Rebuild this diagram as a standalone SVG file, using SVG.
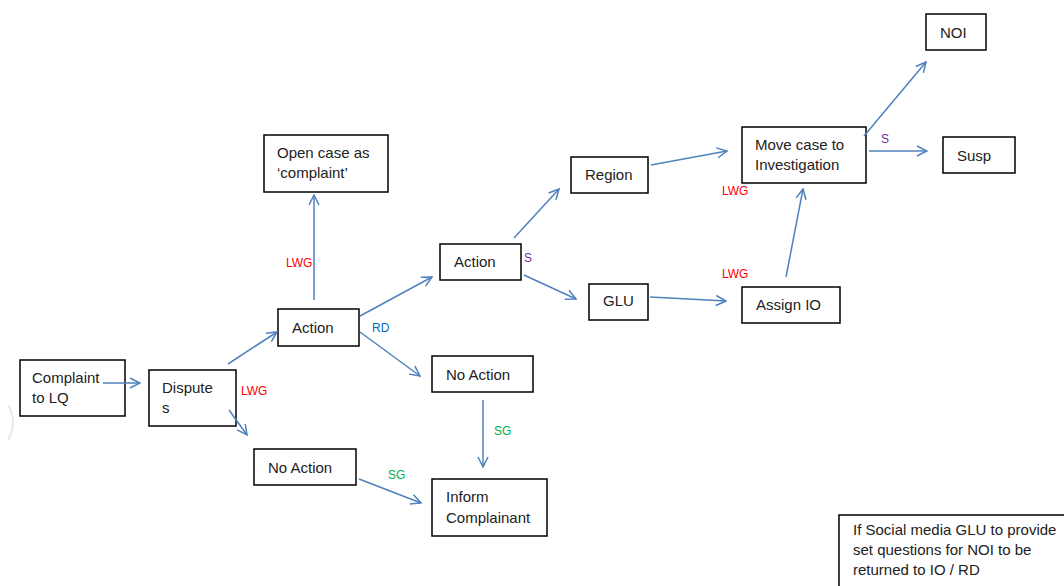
<svg xmlns="http://www.w3.org/2000/svg" width="1064" height="586" viewBox="0 0 1064 586">
<defs>
<marker id="ah" viewBox="0 0 12 12" refX="11" refY="6" markerWidth="12" markerHeight="12" markerUnits="userSpaceOnUse" orient="auto">
<path d="M1,1 L11,6 L1,11" fill="none" stroke="#4f81bd" stroke-width="1.5"/>
</marker>
</defs>
<style>
.box{fill:#fff;stroke:#000;stroke-width:1.5}
.t{font-family:"Liberation Sans",Arial,sans-serif;font-size:15px;fill:#222}
.l{font-family:"Liberation Sans",Arial,sans-serif;font-size:12px}
.c line{stroke:#4f81bd;stroke-width:1.5;marker-end:url(#ah)}
</style>
<rect width="1064" height="586" fill="#fff"/>
<path d="M8,405 Q18,422 8,440" fill="none" stroke="#e8e8e8" stroke-width="2"/>
<g id="complaint"><rect class="box" x="20" y="360" width="105" height="56"/><text class="t" x="32" y="383">Complaint</text><text class="t" x="32" y="403">to LQ</text></g>
<g id="disputes"><rect class="box" x="149" y="370" width="87" height="56"/><text class="t" x="162" y="393">Dispute</text><text class="t" x="162" y="413">s</text></g>
<g id="opencase"><rect class="box" x="264" y="135" width="124" height="57"/><text class="t" x="277" y="158">Open case as</text><text class="t" x="277" y="178">‘complaint’</text></g>
<g id="action1"><rect class="box" x="278" y="309" width="81" height="37"/><text class="t" x="292" y="333">Action</text></g>
<g id="noaction1"><rect class="box" x="254" y="449" width="102" height="36"/><text class="t" x="268" y="473">No Action</text></g>
<g id="noaction2"><rect class="box" x="432" y="356" width="101" height="36"/><text class="t" x="446" y="380">No Action</text></g>
<g id="inform"><rect class="box" x="432" y="479" width="115" height="57"/><text class="t" x="446" y="502">Inform</text><text class="t" x="446" y="523">Complainant</text></g>
<g id="action2"><rect class="box" x="440" y="244" width="81" height="36"/><text class="t" x="454" y="267">Action</text></g>
<g id="region"><rect class="box" x="571" y="157" width="77" height="36"/><text class="t" x="585" y="180">Region</text></g>
<g id="glu"><rect class="box" x="589" y="284" width="59" height="36"/><text class="t" x="603" y="306">GLU</text></g>
<g id="movecase"><rect class="box" x="742" y="127" width="124" height="56"/><text class="t" x="755" y="150">Move case to</text><text class="t" x="755" y="170">Investigation</text></g>
<g id="assignio"><rect class="box" x="742" y="287" width="98" height="36"/><text class="t" x="756" y="310">Assign IO</text></g>
<g id="noi"><rect class="box" x="926" y="14" width="60" height="36"/><text class="t" x="940" y="38">NOI</text></g>
<g id="susp"><rect class="box" x="943" y="137" width="72" height="36"/><text class="t" x="957" y="161">Susp</text></g>
<g id="note"><rect class="box" x="839" y="515" width="240" height="90"/><text class="t" x="853" y="535">If Social media GLU to provide</text><text class="t" x="853" y="555">set questions for NOI to be</text><text class="t" x="853" y="575">returned to IO / RD</text></g>
<g class="c" id="connectors">
<line x1="103" y1="383" x2="140" y2="383"/>
<line x1="228" y1="364" x2="277" y2="332"/>
<line x1="229" y1="410" x2="247" y2="435"/>
<line x1="314" y1="300" x2="314" y2="195"/>
<line x1="360" y1="316" x2="432" y2="277"/>
<line x1="360" y1="332" x2="420" y2="376"/>
<line x1="483" y1="400" x2="483" y2="467"/>
<line x1="359" y1="479" x2="421" y2="503"/>
<line x1="514" y1="238" x2="559" y2="189"/>
<line x1="524" y1="275" x2="576" y2="299"/>
<line x1="650" y1="297" x2="726" y2="301"/>
<line x1="651" y1="165" x2="727" y2="151"/>
<line x1="786" y1="277" x2="803" y2="189"/>
<line x1="864" y1="136" x2="926" y2="62"/>
<line x1="869" y1="151" x2="927" y2="151"/>
</g>
<g id="labels">
<text class="l" x="241" y="395" fill="#ff0000">LWG</text>
<text class="l" x="286" y="267" fill="#ff0000">LWG</text>
<text class="l" x="372" y="332" fill="#0070c0">RD</text>
<text class="l" x="524" y="262" fill="#7030a0">S</text>
<text class="l" x="494" y="435" fill="#00b050">SG</text>
<text class="l" x="388" y="479" fill="#00b050">SG</text>
<text class="l" x="722" y="195" fill="#ff0000">LWG</text>
<text class="l" x="722" y="278" fill="#ff0000">LWG</text>
<text class="l" x="881" y="143" fill="#7030a0">S</text>
</g>
</svg>
